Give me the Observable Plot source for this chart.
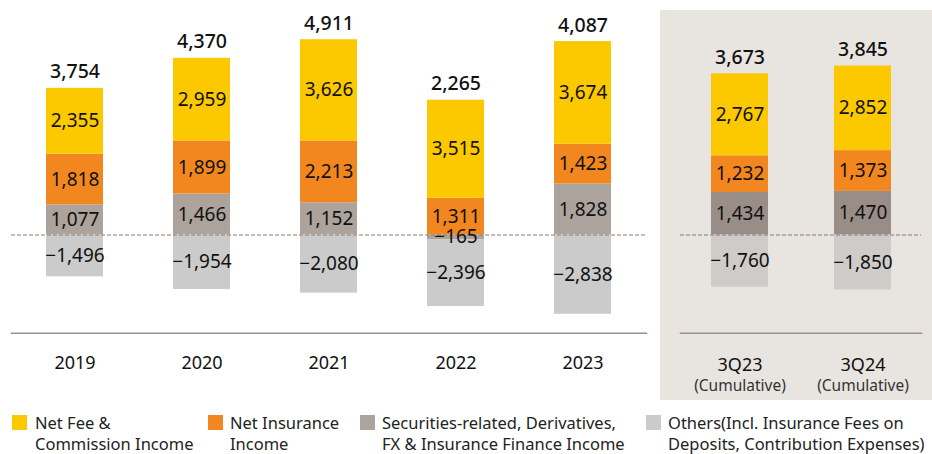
<!DOCTYPE html>
<html>
<head>
<meta charset="utf-8">
<script src="https://cdn.jsdelivr.net/npm/d3@7"></script>
<script src="https://cdn.jsdelivr.net/npm/@observablehq/plot@0.6"></script>
<style>
  html, body { margin: 0; padding: 0; background: #fff; }
  #wrap { position: relative; width: 932px; height: 454px; font-family: "Noto Sans", sans-serif; color: #111; }
  #left { position: absolute; left: 0; top: 0; }
  #rightbg { position: absolute; left: 660px; top: 10px; width: 272px; height: 390px; background: #E8E4E0; }
  #right { position: absolute; left: 660px; top: 0; }
  .lg { position: absolute; top: 412px; font-size: 16.5px; line-height: 21px; color: #222; white-space: nowrap; }
  .sw { position: absolute; top: 415px; width: 15px; height: 15px; }
</style>
</head>
<body>
<div id="wrap">
  <div id="left"></div>
  <div id="rightbg"></div>
  <div id="right"></div>
  <div id="legend"></div>
</div>
<script>
// ---- data ----
const years = ["2019", "2020", "2021", "2022", "2023"];
const feeL = [2355, 2959, 3626, 3515, 3674];
const insL = [1818, 1899, 2213, 1311, 1423];
const secL = [1077, 1466, 1152, -165, 1828];
const othL = [-1496, -1954, -2080, -2396, -2838];
const totL = [3754, 4370, 4911, 2265, 4087];

const periods = ["3Q23", "3Q24"];
const periodNote = "(Cumulative)";
const feeR = [2767, 2852];
const insR = [1232, 1373];
const secR = [1434, 1470];
const othR = [-1760, -1850];
const totR = [3673, 3845];

const seriesKeys = ["sec", "ins", "fee", "oth"]; // stacking order
const legendLabels = [
  ["fee", "Net Fee &", "Commission Income"],
  ["ins", "Net Insurance", "Income"],
  ["sec", "Securities-related, Derivatives,", "FX & Insurance Finance Income"],
  ["oth", "Others(Incl. Insurance Fees on", "Deposits, Contribution Expenses)"]
];

// ---- styles ----
const colorsL = {fee: "#FCC800", ins: "#F28720", sec: "#ABA39C", oth: "#CBCBCB"};
const colorsR = {fee: "#FCC800", ins: "#F28720", sec: "#988E87", oth: "#CECBC9"};
const fmt = d3.format(",");
const zeroPx = 234.5, bottomPx = 332.7, H = 400;

function rowsOf(cats, sec, ins, fee, oth) {
  const rows = [];
  cats.forEach((c, i) => {
    rows.push({cat: c, series: "sec", value: sec[i]});
    rows.push({cat: c, series: "ins", value: ins[i]});
    rows.push({cat: c, series: "fee", value: fee[i]});
    rows.push({cat: c, series: "oth", value: oth[i]});
  });
  return rows;
}
function topsOf(cats, rows, tot) {
  return cats.map((c, i) => ({
    cat: c,
    top: d3.sum(rows.filter(r => r.cat === c && r.value > 0), r => r.value),
    total: tot[i]
  }));
}

function build({cats, rows, tops, colors, width, ml, mr, unitsPerPx, pi, po, tickPad, extra = []}) {
  return Plot.plot({
    width, height: H,
    marginTop: 0, marginBottom: H - bottomPx, marginLeft: ml, marginRight: mr,
    style: {background: "transparent", fontFamily: "Noto Sans, sans-serif", fontSize: "18px", color: "#111", overflow: "visible"},
    x: {domain: cats, paddingInner: pi, paddingOuter: po, tickSize: 0, tickPadding: tickPad, label: null},
    y: {domain: [-(bottomPx - zeroPx) * unitsPerPx, zeroPx * unitsPerPx], axis: null},
    color: {domain: seriesKeys, range: seriesKeys.map(k => colors[k])},
    marks: [
      Plot.barY(rows, {x: "cat", y: "value", fill: "series"}),
      Plot.ruleY([0], {stroke: "#8C7B70", strokeWidth: 1, strokeDasharray: "4,2"}),
      Plot.frame({anchor: "bottom", stroke: "#9A9189", strokeWidth: 1.5}),
      Plot.text(rows, Plot.stackY({x: "cat", y: "value", z: "series", text: d => fmt(d.value), fontSize: 19, fill: "#111"})),
      Plot.text(tops, {x: "cat", y: "top", text: d => fmt(d.total), dy: -10, lineAnchor: "bottom", fontSize: 19.5, fontWeight: 500, fill: "#111"}),
      ...extra
    ]
  });
}

const rowsL = rowsOf(years, secL, insL, feeL, othL);
const rowsR = rowsOf(periods, secR, insR, feeR, othR);

document.getElementById("left").append(build({
  cats: years, rows: rowsL, tops: topsOf(years, rowsL, totL), colors: colorsL,
  width: 660, ml: 11, mr: 14, unitsPerPx: 35.8, pi: 0.551, po: 0.2755, tickPad: 23
}));

document.getElementById("right").append(build({
  cats: periods, rows: rowsR, tops: topsOf(periods, rowsR, totR), colors: colorsR,
  width: 272, ml: 20, mr: 11, unitsPerPx: 33.7, pi: 0.537, po: 0.248, tickPad: 25,
  extra: [Plot.text(periods, {x: d => d, frameAnchor: "bottom", dy: 53, lineAnchor: "middle", text: () => periodNote, fontSize: 15.5, fill: "#333"})]
}));

// ---- legend ----
const lgX = [[12, 35], [208, 230], [360, 382], [646, 668]];
const legend = document.getElementById("legend");
legendLabels.forEach(([k, l1, l2], i) => {
  const sw = document.createElement("div");
  sw.className = "sw";
  sw.style.left = lgX[i][0] + "px";
  sw.style.background = colorsL[k];
  legend.append(sw);
  const t = document.createElement("div");
  t.className = "lg";
  t.style.left = lgX[i][1] + "px";
  t.innerHTML = l1 + "<br>" + l2;
  legend.append(t);
});
</script>
</body>
</html>
